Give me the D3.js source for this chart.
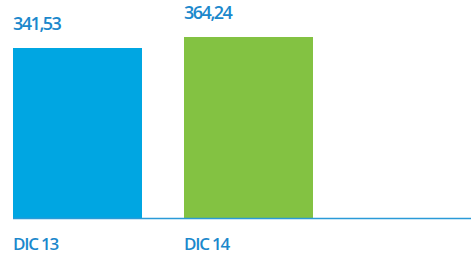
<!DOCTYPE html>
<html><head><meta charset="utf-8">
<script src="https://cdn.jsdelivr.net/npm/d3@7"></script>
<style>body{margin:0;background:#fff}</style>
</head><body>
<script>
const categories = ["DIC 13", "DIC 14"];
const values = [341.53, 364.24];
const valueLabels = ["341,53", "364,24"];
const colors = ["#00a6e2", "#83c242"];

const W = 471, H = 258;
const svg = d3.select("body").append("svg").attr("width", W).attr("height", H);

const x = d3.scaleBand().domain(categories).range([13, 355])
  .paddingInner(42/171).paddingOuter(21/171).align(0);
const y = d3.scaleLinear().domain([0, 364.24]).range([218, 37]);

svg.selectAll("rect.bar").data(values).enter().append("rect")
  .attr("class", "bar")
  .attr("x", (d, i) => x(categories[i]))
  .attr("width", x.bandwidth())
  .attr("y", d => Math.round(y(d)))
  .attr("height", d => y(0) - Math.round(y(d)))
  .attr("fill", (d, i) => colors[i]);

svg.append("line").attr("x1", 13).attr("x2", W).attr("y1", 218.5).attr("y2", 218.5)
  .attr("stroke", "#2a9ad8").attr("stroke-width", 1.5);

const font = "'Open Sans', sans-serif";
svg.selectAll("text.val").data(values).enter().append("text")
  .attr("class", "val")
  .attr("x", (d, i) => x(categories[i]))
  .attr("y", d => y(d) - 18.5)
  .attr("font-family", font).attr("font-weight", 600).attr("font-size", 18)
  .attr("letter-spacing", -1.5)
  .attr("fill", "#1b88cc")
  .text((d, i) => valueLabels[i]);

svg.selectAll("text.cat").data(categories).enter().append("text")
  .attr("class", "cat")
  .attr("x", d => x(d))
  .attr("y", 250)
  .attr("font-family", font).attr("font-weight", 600).attr("font-size", 17)
  .attr("letter-spacing", -1.2)
  .attr("fill", "#1b88cc")
  .text(d => d);
</script>
</body></html>
